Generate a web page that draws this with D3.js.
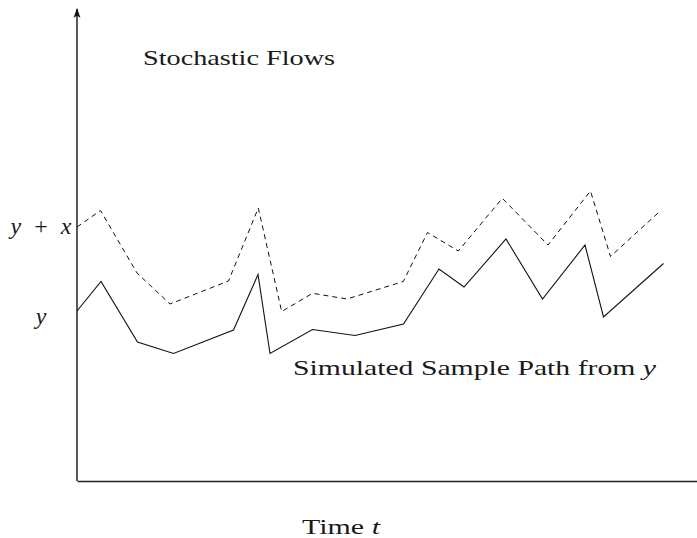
<!DOCTYPE html>
<html>
<head>
<meta charset="utf-8">
<script src="https://cdn.jsdelivr.net/npm/d3@7"></script>
<style>
  html, body { margin: 0; padding: 0; background: #fff; }
  svg { display: block; }
  text { font-family: "Liberation Serif", "Times New Roman", serif; fill: #1a1a1a; }
</style>
</head>
<body>
<svg id="chart" width="697" height="538"></svg>
<script>
// ---- data (time units, value units) ----
const flowTimes   = [0, 2.35, 6.0, 9.3, 15.15, 18.13, 20.47, 23.55, 27.0, 32.63, 35.05, 38.13, 42.53, 47.1, 51.35, 53.35, 58.1];
const flowValues  = [25.4, 27.05, 20.8, 17.7, 20.0, 27.3, 16.95, 18.77, 18.2, 19.95, 24.85, 23.0, 28.27, 23.6, 29.0, 22.45, 26.8];
const pathTimes   = [0, 2.4, 6.05, 9.65, 15.65, 18.1, 19.3, 23.55, 27.8, 32.65, 36.2, 38.7, 42.9, 46.55, 50.8, 52.65, 58.65];
const pathValues  = [17.0, 19.95, 13.9, 12.75, 15.1, 20.65, 12.75, 15.15, 14.55, 15.7, 21.2, 19.4, 24.2, 18.2, 23.6, 16.4, 21.75];
const yTickValues = [17.0, 25.4];
const yTickLabels = [["y"], ["y", " + ", "x"]];

const svg = d3.select("#chart");
const x = d3.scaleLinear().domain([0, 62]).range([77, 697]);
const y = d3.scaleLinear().domain([0, 47]).range([481, 11]);

// arrow marker
svg.append("defs").append("marker")
  .attr("id", "arrow").attr("viewBox", "0 0 10 10")
  .attr("refX", 9).attr("refY", 5)
  .attr("markerWidth", 10).attr("markerHeight", 10)
  .attr("markerUnits", "userSpaceOnUse")
  .attr("orient", "auto")
  .append("path").attr("d", "M0,1.5 L10,5 L0,8.5 L2.5,5 Z").attr("fill", "#111");

// x axis
const xAxis = svg.append("g").attr("transform", `translate(0,${y(0)})`)
  .call(d3.axisBottom(x).tickValues([]).tickSizeOuter(0));
xAxis.select(".domain").attr("stroke", "#222").attr("stroke-width", 1.5);

// y axis
const yAxis = svg.append("g").attr("transform", `translate(${x(0)},0)`)
  .call(d3.axisLeft(y).tickValues(yTickValues).tickSize(0).tickSizeOuter(0).tickFormat(""));
yAxis.select(".domain").attr("stroke", "#222").attr("stroke-width", 1.5)
  .attr("marker-end", "url(#arrow)")
  .attr("d", `M0,${y(0)}V${y(47) - 2}`);
yAxis.selectAll(".tick text").remove();
yAxis.selectAll(".tick").each(function(d, i) {
  const t = d3.select(this).append("text")
    .attr("x", -36).attr("y", i === 0 ? 12 : 6)
    .attr("text-anchor", "middle")
    .style("font-size", "24px").attr("fill", "#1a1a1a");
  if (i === 1) t.attr("textLength", 61).attr("lengthAdjust", "spacing");
  yTickLabels[i].forEach((s, j) => {
    t.append("tspan").text(s)
      .style("font-style", s.trim() === "+" ? "normal" : "italic");
  });
});

// lines
const line = d3.line().x(d => x(d[0])).y(d => y(d[1]));
svg.append("path")
  .datum(flowTimes.map((t, i) => [t, flowValues[i]]))
  .attr("d", line).attr("fill", "none").attr("stroke", "#111")
  .attr("stroke-width", 1).attr("stroke-dasharray", "5,4");
svg.append("path")
  .datum(pathTimes.map((t, i) => [t, pathValues[i]]))
  .attr("d", line).attr("fill", "none").attr("stroke", "#111")
  .attr("stroke-width", 1.1);

// texts
svg.append("text").attr("x", 143).attr("y", 65)
  .attr("textLength", 192).attr("lengthAdjust", "spacingAndGlyphs")
  .style("font-size", "22px").text("Stochastic Flows");

const sim = svg.append("text").attr("x", 293).attr("y", 375)
  .attr("textLength", 363).attr("lengthAdjust", "spacingAndGlyphs")
  .style("font-size", "22px");
sim.append("tspan").text("Simulated Sample Path from ");
sim.append("tspan").style("font-style", "italic").text("y");

const tt = svg.append("text").attr("x", 302).attr("y", 534)
  .attr("textLength", 78).attr("lengthAdjust", "spacingAndGlyphs")
  .style("font-size", "22px");
tt.append("tspan").text("Time ");
tt.append("tspan").style("font-style", "italic").text("t");
</script>
</body>
</html>
